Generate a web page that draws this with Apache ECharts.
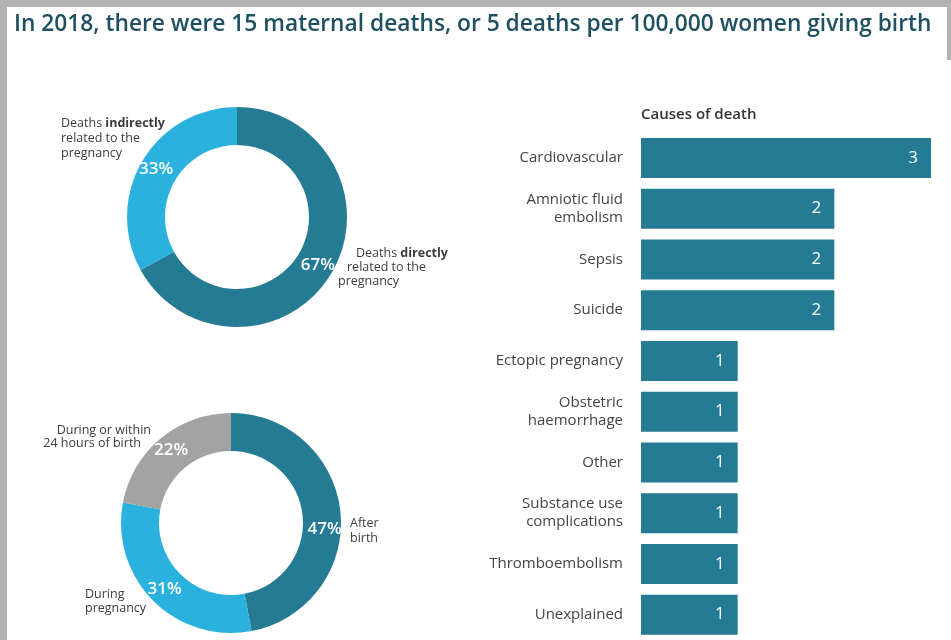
<!DOCTYPE html>
<html>
<head>
<meta charset="utf-8">
<script src="https://cdn.jsdelivr.net/npm/echarts@6/dist/echarts.min.js"></script>
<style>
html,body{margin:0;padding:0;background:#fff;}
#chart{width:951px;height:640px;}
</style>
</head>
<body>
<div id="chart"></div>
<script>
// ---- data ----
const titleText = 'In 2018, there were 15 maternal deaths, or 5 deaths per 100,000 women giving birth';
const relationNames = ['Deaths directly related to the pregnancy', 'Deaths indirectly related to the pregnancy'];
const relationValues = [67, 33];
const timingNames = ['After birth', 'During pregnancy', 'During or within 24 hours of birth'];
const timingValues = [47, 31, 22];
const causeCategories = ['Cardiovascular', 'Amniotic fluid\nembolism', 'Sepsis', 'Suicide', 'Ectopic pregnancy',
  'Obstetric\nhaemorrhage', 'Other', 'Substance use\ncomplications', 'Thromboembolism', 'Unexplained'];
const causeValues = [3, 2, 2, 2, 1, 1, 1, 1, 1, 1];

// ---- styles ----
const DARK = '#247b93';
const LIGHT = '#2ab1de';
const GREY = '#a3a3a3';
const TXT = '#3c3c3c';
const FONT = '"Open Sans", "Noto Sans", sans-serif';

const chart = echarts.init(document.getElementById('chart'), null, {renderer: 'canvas'});

function txt(x, y, s, align) {
  return {
    type: 'text', x: x, y: y,
    style: {text: s, fontFamily: FONT, fontSize: 12.5, fill: TXT, align: align || 'left', verticalAlign: 'middle'}
  };
}
function rtxt(x, y, parts) {
  let str = parts.map(p => p[1] ? '{b|' + p[0] + '}' : '{n|' + p[0] + '}').join('');
  return {
    type: 'text', x: x, y: y,
    style: {
      text: str, verticalAlign: 'middle', align: 'left',
      rich: {
        n: {fontFamily: FONT, fontSize: 12.5, fontWeight: 400, fill: TXT},
        b: {fontFamily: FONT, fontSize: 12.5, fontWeight: 700, fill: TXT}
      }
    }
  };
}

const insideLabel = {
  show: true, position: 'inside', formatter: '{c}%',
  color: '#fff', fontFamily: FONT, fontSize: 17, fontWeight: 600
};

const option = {
  backgroundColor: '#ffffff',
  animation: false,
  title: [
    {
      text: titleText, left: 9, top: 8,
      textStyle: {fontFamily: FONT, fontSize: 22.75, fontWeight: 600, color: '#1e5061'}
    },
    {
      text: 'Causes of death', left: 636, top: 102,
      textStyle: {fontFamily: FONT, fontSize: 15, fontWeight: 600, color: '#333'}
    }
  ],
  grid: {left: 641, top: 132.5, width: 290, height: 511, containLabel: false},
  xAxis: {
    type: 'value', min: 0, max: 3, show: false
  },
  yAxis: {
    type: 'category', data: causeCategories, inverse: true,
    axisLine: {show: false}, axisTick: {show: false}, splitLine: {show: false},
    axisLabel: {fontFamily: FONT, fontSize: 15, color: '#444', margin: 18, lineHeight: 18, align: 'right'}
  },
  series: [
    {
      type: 'bar', data: causeValues, barWidth: 40,
      itemStyle: {color: DARK},
      label: {show: true, position: 'insideRight', distance: 13, color: '#fff',
        fontFamily: FONT, fontSize: 17, fontWeight: 400}
    },
    {
      type: 'pie', center: [237, 217], radius: [72, 110], startAngle: 90, clockwise: true,
      silent: true,
      data: relationNames.map((n, i) => ({name: n, value: relationValues[i],
        itemStyle: {color: [DARK, LIGHT][i]}})),
      label: insideLabel, labelLine: {show: false}
    },
    {
      type: 'pie', center: [231, 523], radius: [72, 110], startAngle: 90, clockwise: true,
      silent: true,
      data: timingNames.map((n, i) => ({name: n, value: timingValues[i],
        itemStyle: {color: [DARK, LIGHT, GREY][i]},
        label: i === 0 ? {offset: [0, 15]} : {}})),
      label: insideLabel, labelLine: {show: false}
    }
  ],
  graphic: [
    {type: 'rect', shape: {x: 0, y: 0, width: 951, height: 7}, style: {fill: '#b3b3b3'}},
    {type: 'rect', shape: {x: 0, y: 0, width: 7, height: 640}, style: {fill: '#b3b3b3'}},
    {type: 'rect', shape: {x: 947, y: 0, width: 4, height: 60}, style: {fill: '#b3b3b3'}},
    rtxt(61, 123, [['Deaths ', false], ['indirectly', true]]),
    txt(61, 138, 'related to the'),
    txt(61, 153, 'pregnancy'),
    rtxt(356, 253, [['Deaths ', false], ['directly', true]]),
    txt(347, 267, 'related to the'),
    txt(338, 281, 'pregnancy'),
    txt(151, 430, 'During or within', 'right'),
    txt(141, 443, '24 hours of birth', 'right'),
    txt(350, 523, 'After'),
    txt(350, 538, 'birth'),
    txt(85, 594, 'During'),
    txt(85, 608, 'pregnancy')
  ]
};
chart.setOption(option);
</script>
</body>
</html>
